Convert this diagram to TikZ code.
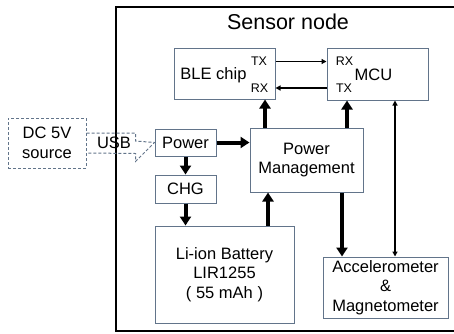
\documentclass[tikz,border=0pt]{standalone}
\usepackage{fontspec}
\setmainfont{Liberation Sans}
\usetikzlibrary{arrows.meta, positioning, calc}
\definecolor{edgeA}{HTML}{62748A}
\tikzset{
  blk/.style={
    draw=edgeA, line width=1pt, inner sep=0pt, align=center,
    font=\fontsize{16.5}{19.5}\selectfont
  },
  dblk/.style={blk, dash pattern=on 3pt off 2pt},
  txt/.style={inner sep=0pt, align=center, font=\fontsize{16.5}{19.5}\selectfont},
  port/.style={inner sep=0pt, font=\fontsize{12.5}{14}\selectfont},
  bigarrow/.style={-{Triangle[width=11pt,length=9pt]}, line width=4pt},
  sigarrow/.style={-{Triangle[width=5pt,length=5pt]}, line width=1.3pt},
  bisigarrow/.style={{Triangle[width=5pt,length=5pt]}-{Triangle[width=5pt,length=5pt]}, line width=1.3pt},
  frame/.style={draw=black, line width=2.5pt}
}

\begin{document}
\begin{tikzpicture}[x=1pt, y=-1pt]
  \useasboundingbox (0,0) rectangle (454,333);
  \draw[frame] (470,7) -- (116,7) -- (116,331) -- (470,331);
  \node[txt, font=\fontsize{21.5}{24}\selectfont] (title) at (288,22) {Sensor node};

  \node[blk, minimum width=101pt, minimum height=51pt] (ble) at (224.5,73.5) {};
  \node[txt] (bletxt) at (213.5,75) {BLE chip};
  \node[port] (bletx) at (259,61.5) {TX};
  \node[port] (blerx) at (259.5,88) {RX};
  \node[blk, minimum width=101pt, minimum height=52pt] (mcu) at (377.5,74) {};
  \node[txt] (mcutxt) at (373.5,75) {MCU};
  \node[port] (mcurx) at (344.5,61.5) {RX};
  \node[port] (mcutx) at (344,88) {TX};

  \node[dblk, minimum width=78pt, minimum height=50pt] (src) at (47,143) {DC 5V\\source};
  \node[blk, minimum width=61pt, minimum height=27pt] (power) at (185.5,142.5) {Power};
  \node[blk, minimum width=61pt, minimum height=28pt] (chg) at (185.5,189) {CHG};
  \node[blk, minimum width=139pt, minimum height=97pt] (batt) at (224.5,274.5) {Li-ion Battery\\LIR1255\\( 55 mAh )};
  \node[blk, minimum width=113pt, minimum height=64pt] (pm) at (306.5,160) {Power\\Management};
  \node[blk, minimum width=125pt, minimum height=61pt] (accel) at (385.5,287.5) {Accelerometer\\\&\\Magnetometer};

  % USB plug
  \draw[draw=edgeA, line width=1pt, dash pattern=on 3pt off 2pt]
    ([yshift=10pt]src.east) -- ++(49,0) -- ++(0,8) -- (power.west)
    -- ++(-19,19) -- ++(0,-8) -- ([yshift=-10pt]src.east);
  \node[txt] (usb) at (114,143) {USB};

  \draw[sigarrow] (ble.east |- bletx) -- (mcu.west |- mcurx);
  \draw[sigarrow] (mcu.west |- mcutx) -- (ble.east |- blerx);

  \draw[bigarrow] (power.east) -- (pm.west |- power.east);
  \draw[bigarrow] (power.south) -- (chg.north);
  \draw[bigarrow] (chg.south) -- (chg.south |- batt.north);
  \draw[bigarrow] ([xshift=43.5pt]batt.north) -- ([xshift=43.5pt]batt.north |- pm.south);
  \draw[bigarrow] ([xshift=40.5pt]ble.south |- pm.north) -- ([xshift=40.5pt]ble.south);
  \draw[bigarrow] ([xshift=-30.5pt]mcu.south |- pm.north) -- ([xshift=-30.5pt]mcu.south);
  \draw[bigarrow] ([xshift=-43.5pt]accel.north |- pm.south) -- ([xshift=-43.5pt]accel.north);
  \draw[bisigarrow] ([xshift=17.5pt]mcu.south) -- ([xshift=17.5pt]mcu.south |- accel.north);
\end{tikzpicture}
\end{document}
